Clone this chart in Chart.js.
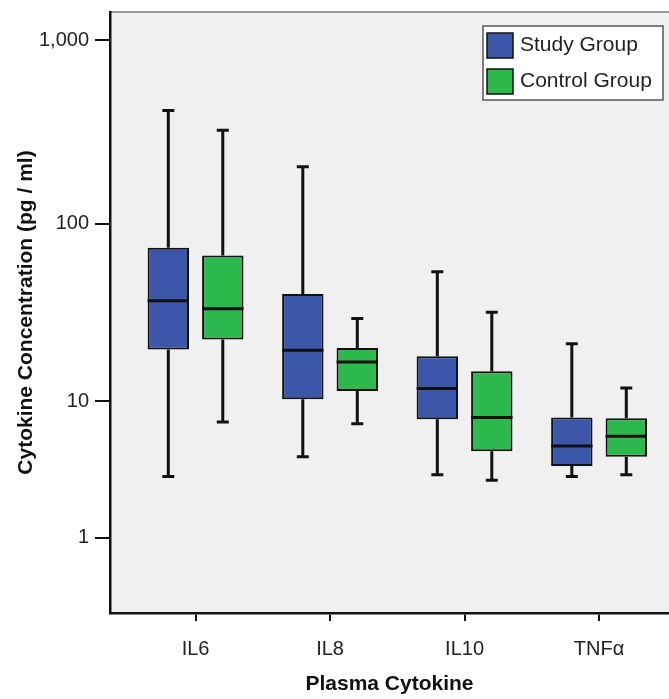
<!DOCTYPE html>
<html>
<head>
<meta charset="utf-8">
<title>Plasma Cytokine</title>
<script src="https://cdn.jsdelivr.net/npm/chart.js"></script>
<style>
  body { margin: 0; background: #fff; }
  #wrap { width: 669px; height: 699px; }
</style>
</head>
<body>
<div id="wrap"><canvas id="chart"></canvas></div>
<script>
// box plot stats (pg / ml)
var categories = ['IL6', 'IL8', 'IL10', 'TNFα'];

var studyMin    = [3.3, 4.5, 3.4, 3.3];
var studyQ1     = [20, 10.3, 7.8, 3.9];
var studyMedian = [37.6, 19.8, 11.9, 5.3];
var studyQ3     = [74, 41, 18.3, 8.0];
var studyMax    = [416, 205, 54.5, 21.6];

var controlMin    = [7.5, 7.3, 3.1, 3.4];
var controlQ1     = [22.8, 11.5, 4.9, 4.5];
var controlMedian = [34, 17, 8.0, 6.1];
var controlQ3     = [67, 20.4, 15, 7.9];
var controlMax    = [324, 30, 32.5, 12];

var yTicks = [1, 10, 100, 1000];

var groups = [
    { label: 'Study Group', color: '#3c56a9', min: studyMin, q1: studyQ1, med: studyMedian, q3: studyQ3, max: studyMax },
    { label: 'Control Group', color: '#2db94d', min: controlMin, q1: controlQ1, med: controlMedian, q3: controlQ3, max: controlMax }
];

var FONT = "'Liberation Sans', Arial, sans-serif";

// SPSS style "safe log" axis: sign(v) * log10(|v| + 1)
function safeLog(v) { return Math.sign(v) * Math.log10(Math.abs(v) + 1); }
function safeLogInv(t) { return Math.sign(t) * (Math.pow(10, Math.abs(t)) - 1); }

class SafeLogScale extends Chart.Scale {
    determineDataLimits() {
        this.min = this.options.min;
        this.max = this.options.max;
    }
    buildTicks() {
        return yTicks.map(function(v) { return { value: v }; });
    }
    getLabelForValue(v) {
        return v.toLocaleString('en-US');
    }
    configure() {
        super.configure();
        this._t0 = safeLog(this.min);
        this._tRange = safeLog(this.max) - this._t0;
    }
    getPixelForValue(v) {
        return this.getPixelForDecimal((safeLog(v) - this._t0) / this._tRange);
    }
    getValueForPixel(p) {
        return safeLogInv(this._t0 + this.getDecimalForPixel(p) * this._tRange);
    }
}
SafeLogScale.id = 'safeLog';
SafeLogScale.defaults = {};
Chart.register(SafeLogScale);

var plotBackground = {
    id: 'plotBackground',
    beforeDraw: function(chart) {
        var a = chart.chartArea, ctx = chart.ctx;
        ctx.save();
        ctx.fillStyle = '#f0f0f0';
        ctx.fillRect(a.left, a.top, a.right - a.left, a.bottom - a.top);
        ctx.strokeStyle = '#7a7a7a';
        ctx.lineWidth = 1.5;
        ctx.beginPath();
        ctx.moveTo(a.left, a.top);
        ctx.lineTo(a.right, a.top);
        ctx.stroke();
        ctx.restore();
    }
};

var boxWhiskers = {
    id: 'boxWhiskers',
    afterDatasetsDraw: function(chart) {
        var ctx = chart.ctx, y = chart.scales.y;
        ctx.save();
        ctx.strokeStyle = '#111';
        groups.forEach(function(g, di) {
            chart.getDatasetMeta(di).data.forEach(function(bar, i) {
                var x = bar.x, half = bar.width / 2;
                var pMin = y.getPixelForValue(g.min[i]);
                var pQ1 = y.getPixelForValue(g.q1[i]);
                var pMed = y.getPixelForValue(g.med[i]);
                var pQ3 = y.getPixelForValue(g.q3[i]);
                var pMax = y.getPixelForValue(g.max[i]);
                ctx.lineWidth = 3;
                ctx.beginPath();
                ctx.moveTo(x, pQ3); ctx.lineTo(x, pMax);
                ctx.moveTo(x, pQ1); ctx.lineTo(x, pMin);
                ctx.stroke();
                ctx.beginPath();
                ctx.moveTo(x - 6, pMax); ctx.lineTo(x + 6, pMax);
                ctx.moveTo(x - 6, pMin); ctx.lineTo(x + 6, pMin);
                ctx.stroke();
                ctx.beginPath();
                ctx.moveTo(x - half, pMed); ctx.lineTo(x + half, pMed);
                ctx.stroke();
            });
        });
        ctx.restore();
    }
};

var legendBox = {
    id: 'legendBox',
    afterDraw: function(chart) {
        var a = chart.chartArea, ctx = chart.ctx;
        var w = 180, h = 74;
        var left = a.right - 6 - w, top = a.top + 14;
        ctx.save();
        ctx.fillStyle = '#fff';
        ctx.fillRect(left, top, w, h);
        ctx.strokeStyle = '#555';
        ctx.lineWidth = 1.5;
        ctx.strokeRect(left, top, w, h);
        ctx.font = '21px ' + FONT;
        ctx.textBaseline = 'middle';
        groups.forEach(function(g, i) {
            var sy = top + 7 + i * 36;
            ctx.fillStyle = g.color;
            ctx.fillRect(left + 4, sy, 26, 25);
            ctx.strokeStyle = '#111';
            ctx.lineWidth = 1.5;
            ctx.strokeRect(left + 4, sy, 26, 25);
            ctx.fillStyle = '#222';
            ctx.fillText(g.label, left + 37, sy + 12.5);
        });
        ctx.restore();
    }
};

var datasets = groups.map(function(g) {
    return {
        label: g.label,
        data: categories.map(function(c, i) { return { x: i, y: [g.q1[i], g.q3[i]] }; }),
        backgroundColor: g.color,
        borderColor: '#111',
        borderWidth: 2,
        borderSkipped: false,
        categoryPercentage: 0.81,
        barPercentage: 0.76
    };
});

new Chart(document.getElementById('chart').getContext('2d'), {
    type: 'bar',
    data: { datasets: datasets },
    plugins: [plotBackground, boxWhiskers, legendBox],
    options: {
        responsive: true,
        maintainAspectRatio: false,
        animation: false,
        layout: { padding: { top: 12, left: 0, right: 0, bottom: 0 } },
        plugins: {
            legend: { display: false },
            tooltip: { enabled: false }
        },
        scales: {
            x: {
                type: 'linear',
                min: -0.636,
                max: 3.52,
                offset: false,
                bounds: 'data',
                afterBuildTicks: function(scale) {
                    scale.ticks = categories.map(function(c, i) { return { value: i }; });
                },
                afterFit: function(scale) { scale.height = 86; },
                ticks: {
                    callback: function(v) { return categories[v]; },
                    font: { family: FONT, size: 20 },
                    color: '#222',
                    padding: 16,
                    maxRotation: 0
                },
                grid: { offset: false, drawOnChartArea: false, tickLength: 8, color: '#111', lineWidth: 2 },
                border: { color: '#111', width: 2.5 },
                title: {
                    display: true,
                    text: 'Plasma Cytokine',
                    font: { family: FONT, size: 21, weight: 'bold' },
                    color: '#111',
                    padding: { top: 0, bottom: 2 }
                }
            },
            y: {
                type: 'safeLog',
                min: -0.28,
                max: 1425,
                afterFit: function(scale) {
                    scale.width = 110;
                    scale.paddingTop = 0;
                    scale.paddingBottom = 0;
                },
                ticks: {
                    callback: function(v) { return v.toLocaleString('en-US'); },
                    font: { family: FONT, size: 20 },
                    color: '#222',
                    padding: 6
                },
                grid: { drawOnChartArea: false, tickLength: 15, color: '#111', lineWidth: 2 },
                border: { color: '#111', width: 2.5 },
                title: {
                    display: true,
                    text: 'Cytokine Concentration (pg / ml)',
                    font: { family: FONT, size: 21, weight: 'bold' },
                    color: '#111',
                    padding: { top: 14, bottom: 0 }
                }
            }
        }
    }
});
</script>
</body>
</html>
